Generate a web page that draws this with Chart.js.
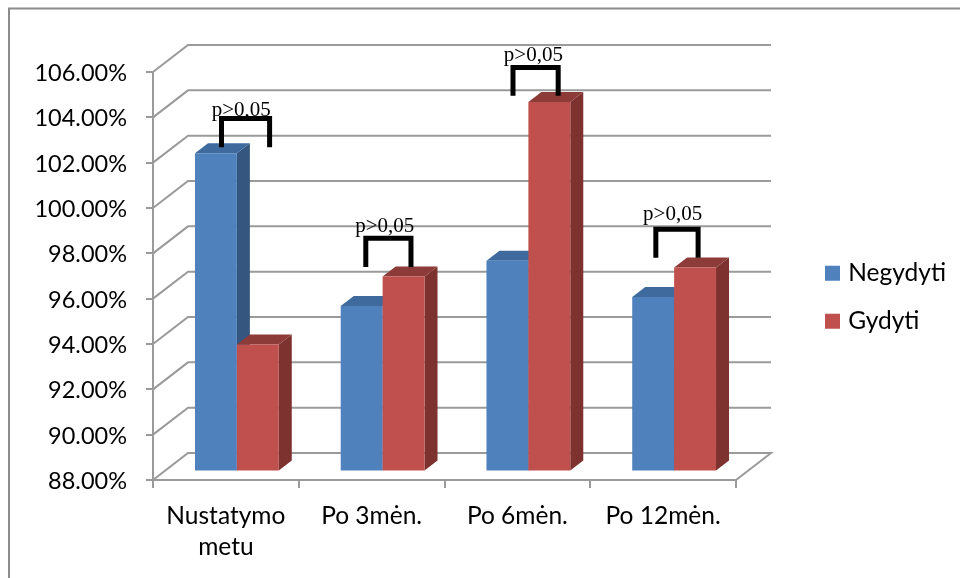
<!DOCTYPE html>
<html>
<head>
<meta charset="utf-8">
<title>Negydyti / Gydyti</title>
<script src="https://cdn.jsdelivr.net/npm/chart.js@4/dist/chart.umd.min.js"></script>
<style>
    html, body { margin: 0; padding: 0; background: #fff; }
    canvas { display: block; }
</style>
</head>
<body>
<canvas id="chart" width="960" height="578"></canvas>
<script>
const categories = [["Nustatymo", "metu"], "Po 3mėn.", "Po 6mėn.", "Po 12mėn."];
const negydyti = [102.04, 95.3, 97.3, 95.7];
const gydyti = [93.6, 96.6, 104.3, 97.0];

// p>0,05 brackets, x in category units, y in axis units
const pLabel = "p>0,05";
const bracketStart = [-0.03, 0.96, 1.97, 2.95];
const bracketEnd = [0.30, 1.27, 2.28, 3.24];
const bracketTop = [103.95, 98.66, 106.2, 99.06];
const bracketBottom = [102.68, 97.4, 104.95, 97.8];
const pLabelX = [0.105, 1.09, 2.11, 3.065];
const pLabelY = [104.08, 98.92, 106.47, 99.47];

const GREY = "#9a9a9a";
// depth of the back wall and of the bars
const WALL = { x: 35, y: -27 };
const BAR_SHIFT = { x: 11, y: -8.5 };
const BAR_DEPTH = { x: 13, y: -10 };
const FACES = [
    { side: "#35567f", top: "#3e6a9e" },
    { side: "#7d3230", top: "#8d3b39" }
];

function poly(ctx, pts, color) {
    ctx.fillStyle = color;
    ctx.beginPath();
    pts.forEach((p, i) => i ? ctx.lineTo(p[0], p[1]) : ctx.moveTo(p[0], p[1]));
    ctx.closePath();
    ctx.fill();
}

const frame3d = {
    id: "frame3d",
    beforeDraw(chart) {
        const ctx = chart.ctx;
        ctx.save();
        ctx.strokeStyle = "#8c8c8c";
        ctx.lineWidth = 2;
        ctx.beginPath();
        ctx.moveTo(9, 578);
        ctx.lineTo(9, 8.5);
        ctx.lineTo(960, 8.5);
        ctx.stroke();
        ctx.restore();
    },
    beforeDatasetsDraw(chart) {
        const ctx = chart.ctx;
        const a = chart.chartArea;
        const y = chart.scales.y;
        ctx.save();
        ctx.strokeStyle = GREY;
        ctx.lineWidth = 2;
        y.ticks.forEach(t => {
            const py = y.getPixelForValue(t.value);
            ctx.beginPath();
            ctx.moveTo(a.left, py);
            ctx.lineTo(a.left + WALL.x, py + WALL.y);
            ctx.lineTo(a.right + WALL.x, py + WALL.y);
            if (t.value === y.min) ctx.lineTo(a.right, py);
            ctx.stroke();
        });
        ctx.restore();

        // blue first, red over it: Chart.js would paint them the other way round
        ctx.save();
        ctx.translate(BAR_SHIFT.x, BAR_SHIFT.y);
        [0, 1].forEach(d => {
            const f = FACES[d];
            chart.getDatasetMeta(d).data.forEach(el => {
                const l = el.x - el.width / 2;
                const r = el.x + el.width / 2;
                poly(ctx, [[r, el.y], [r + BAR_DEPTH.x, el.y + BAR_DEPTH.y], [r + BAR_DEPTH.x, el.base + BAR_DEPTH.y], [r, el.base]], f.side);
                poly(ctx, [[l, el.y], [l + BAR_DEPTH.x, el.y + BAR_DEPTH.y], [r + BAR_DEPTH.x, el.y + BAR_DEPTH.y], [r, el.y]], f.top);
                el.draw(ctx);
            });
        });
        ctx.restore();
    },
    beforeDatasetDraw() {
        return false;
    },
    afterDatasetsDraw(chart) {
        const ctx = chart.ctx;
        const { x, y } = chart.scales;
        ctx.save();
        ctx.strokeStyle = "#000";
        ctx.lineWidth = 5;
        ctx.lineJoin = "miter";
        bracketTop.forEach((top, i) => {
            ctx.beginPath();
            ctx.moveTo(x.getPixelForValue(bracketStart[i]), y.getPixelForValue(bracketBottom[i]));
            ctx.lineTo(x.getPixelForValue(bracketStart[i]), y.getPixelForValue(top));
            ctx.lineTo(x.getPixelForValue(bracketEnd[i]), y.getPixelForValue(top));
            ctx.lineTo(x.getPixelForValue(bracketEnd[i]), y.getPixelForValue(bracketBottom[i]));
            ctx.stroke();
        });
        ctx.fillStyle = "#000";
        ctx.font = "21px 'Liberation Serif'";
        ctx.textAlign = "center";
        ctx.textBaseline = "alphabetic";
        pLabelX.forEach((v, i) => {
            ctx.fillText(pLabel, x.getPixelForValue(v), y.getPixelForValue(pLabelY[i]));
        });
        ctx.restore();
    },
    afterLayout(chart) {
        // legend sits right of the plot, outside of the chart area
        Object.assign(chart.legend, { left: 805.5, right: 960, top: 237.5, bottom: 420 });
    }
};

new Chart(document.getElementById("chart"), {
    type: "bar",
    data: {
        labels: categories,
        datasets: [
            { label: "Negydyti", data: negydyti, backgroundColor: "#4f81bd", base: 88 },
            { label: "Gydyti", data: gydyti, backgroundColor: "#c0504d", base: 88 }
        ]
    },
    options: {
        responsive: false,
        animation: false,
        layout: { padding: { top: 72, right: 224, left: 0, bottom: 0 } },
        datasets: { bar: { categoryPercentage: 0.575, barPercentage: 1 } },
        scales: {
            x: {
                afterFit: s => { s.height = 98; },
                grid: { drawOnChartArea: false, color: GREY, lineWidth: 2, tickLength: 8 },
                border: { color: GREY, width: 2 },
                ticks: {
                    color: "#000",
                    maxRotation: 0,
                    autoSkip: false,
                    padding: 12,
                    font: { family: "Lato", size: 24.5, lineHeight: 1.29 }
                }
            },
            y: {
                min: 88,
                max: 106,
                afterFit: s => { s.width = 153; },
                grid: { drawOnChartArea: false, color: GREY, lineWidth: 2, tickLength: 7 },
                border: { color: GREY, width: 2 },
                ticks: {
                    stepSize: 2,
                    color: "#000",
                    padding: 19,
                    labelOffset: 1.5,
                    font: { family: "Lato", size: 23.5 },
                    callback: v => v.toFixed(2) + "%"
                }
            }
        },
        plugins: {
            tooltip: { enabled: false },
            legend: {
                position: "chartArea",
                align: "start",
                labels: {
                    color: "#000",
                    font: { family: "Lato", size: 24.5 },
                    usePointStyle: true,
                    pointStyle: "rect",
                    boxWidth: 7,
                    boxHeight: 15,
                    padding: 23.5
                }
            }
        }
    },
    plugins: [frame3d]
});
</script>
</body>
</html>
